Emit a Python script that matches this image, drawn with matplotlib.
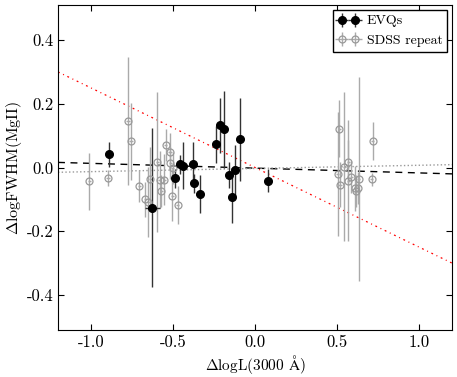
import numpy as np
import matplotlib
matplotlib.use("Agg")
import matplotlib.pyplot as plt

plt.rcParams['font.family'] = ['cmr10', 'DejaVu Serif']
plt.rcParams['mathtext.fontset'] = 'cm'
plt.rcParams['axes.unicode_minus'] = False
plt.rcParams['axes.formatter.use_mathtext'] = False

# EVQs
evq_x = [-0.888, -0.626, -0.488, -0.457, -0.439, -0.378, -0.372, -0.337,
         -0.240, -0.213, -0.187, -0.157, -0.142, -0.120, -0.090, 0.079]
evq_y = [0.041, -0.126, -0.034, 0.010, 0.006, 0.011, -0.050, -0.084,
         0.073, 0.132, 0.120, -0.024, -0.093, -0.009, 0.088, -0.041]
evq_yerr = [0.04, 0.25, 0.03, 0.03, 0.075, 0.07, 0.03, 0.06,
            0.058, 0.085, 0.12, 0.04, 0.08, 0.08, 0.13, 0.037]
evq_xerr = [0.01, 0.045, 0.01, 0.01, 0.01, 0.01, 0.01, 0.02,
            0.02, 0.01, 0.01, 0.01, 0.01, 0.01, 0.01, 0.01]

# SDSS repeat
rep_x = [-1.010, -0.895, -0.773, -0.756, -0.705, -0.669, -0.650, -0.638,
         -0.596, -0.580, -0.553, -0.571, -0.545, -0.518, -0.516, -0.502,
         -0.504, -0.471,
         0.514, 0.504, 0.518, 0.545, 0.569, 0.569, 0.587, 0.610, 0.626,
         0.618, 0.632, 0.717, 0.711]
rep_y = [-0.043, -0.032, 0.146, 0.082, -0.058, -0.100, -0.107, -0.037,
         0.018, -0.038, -0.038, -0.075, 0.070, 0.048, 0.013, -0.002,
         -0.088, -0.117,
         0.122, -0.020, -0.054, 0.003, 0.016, -0.042, -0.029, -0.065, -0.065,
         -0.075, -0.037, 0.084, -0.037]
rep_yerr = [0.09, 0.025, 0.20, 0.12, 0.05, 0.055, 0.11, 0.10,
            0.22, 0.09, 0.08, 0.05, 0.05, 0.06, 0.05, 0.05,
            0.08, 0.06,
            0.09, 0.195, 0.07, 0.235, 0.07, 0.19, 0.05, 0.07, 0.05,
            0.05, 0.32, 0.06, 0.02]

# regression lines (slope, intercept)
fit_evq = (-0.015, -0.002)
fit_rep = (0.010, -0.003)
fit_ref = (-0.25, 0.0)

fig = plt.figure(figsize=(4.57, 3.77), dpi=100)
ax = fig.add_axes([58/457, 1-330/377, (452-58)/457, (330-5)/377])

xl = np.array([-1.2, 1.2])
ax.plot(xl, fit_ref[0]*xl + fit_ref[1], color='red', lw=0.9, dashes=(1.5, 3, 0.8, 3))
ax.plot(xl, fit_evq[0]*xl + fit_evq[1], color='k', lw=1.0, dashes=(5, 4))
ax.plot(xl, fit_rep[0]*xl + fit_rep[1], color='#999999', ls=':', lw=1.0)

ax.errorbar(rep_x, rep_y, yerr=rep_yerr, xerr=0.01, fmt='o', mfc='none',
            mec='#999999', ms=5, mew=0.9, ecolor='#aaaaaa', elinewidth=1.0,
            capsize=0, label='SDSS repeat')
ax.errorbar(evq_x, evq_y, yerr=evq_yerr, xerr=evq_xerr, fmt='o', color='k',
            ms=5.5, ecolor='#333333', elinewidth=1.0, capsize=0, label='EVQs')

ax.set_xlim(-1.2, 1.2)
ax.set_ylim(-0.51, 0.51)
ax.set_xticks([-1.0, -0.5, 0.0, 0.5, 1.0])
ax.set_yticks([-0.4, -0.2, 0.0, 0.2, 0.4])
ax.tick_params(direction='in', top=True, right=True, length=4, labelsize=12)
ax.set_xlabel(r'$\Delta$logL(3000 $\mathrm{\AA}$)', fontsize=11, labelpad=2)
ax.set_ylabel(r'$\Delta$logFWHM(MgII)', fontsize=11.5, labelpad=2)

h, l = ax.get_legend_handles_labels()
leg = ax.legend(h[::-1], l[::-1], loc='upper right', numpoints=2, fontsize=10,
                fancybox=False, edgecolor='k', framealpha=1,
                borderaxespad=0.35, handlelength=1.6, handletextpad=0.5,
                borderpad=0.35)
leg.get_frame().set_linewidth(1.0)

fig.savefig('out.png', dpi=100)
